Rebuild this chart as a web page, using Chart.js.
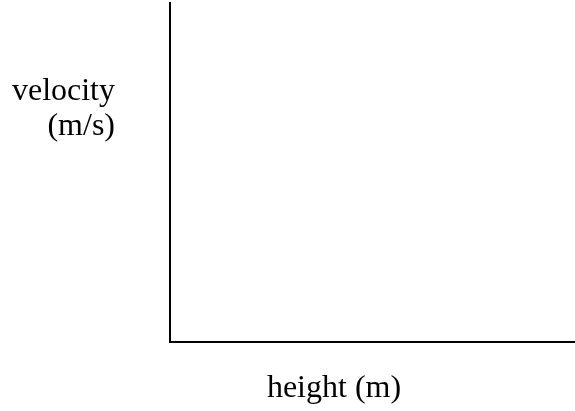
<!DOCTYPE html>
<html>
<head>
<meta charset="utf-8">
<script src="https://cdn.jsdelivr.net/npm/chart.js@4/dist/chart.umd.min.js"></script>
<style>
	html, body { margin: 0; padding: 0; background: #fff; }
	#wrap { width: 575px; height: 411px; position: relative; }
</style>
</head>
<body>
<div id="wrap"><canvas id="chart-velocity-height"></canvas></div>
<script>
// Data: the sketch is a blank set of axes, so both series are empty
const HEIGHTS = [];
const VELOCITIES = [];

// Axis labels
const X_TITLE = "height (m)";
const Y_TITLE_LINES = ["velocity", "(m/s)"];

const FONT = "32px 'Liberation Serif', 'Times New Roman', serif";

// Axis titles sit in free positions (horizontal, right-aligned y title)
const axisTitles = {
	id: "axisTitles",
	afterDraw(chart) {
		const { ctx, chartArea } = chart;
		ctx.save();
		ctx.fillStyle = "#000";
		ctx.font = FONT;
		ctx.textBaseline = "alphabetic";

		// y title, two lines to the left of the axis
		ctx.textAlign = "right";
		Y_TITLE_LINES.forEach((line, i) => {
			ctx.fillText(line, chartArea.left - 55, 100 + i * 35);
		});

		// x title under the axis
		ctx.textAlign = "center";
		ctx.fillText(X_TITLE, 334, chartArea.bottom + 55);
		ctx.restore();
	},
};

const CHART_DATA = {
	datasets: [
		{
			label: "velocity",
			data: HEIGHTS.map((h, i) => ({ x: h, y: VELOCITIES[i] })),
			pointRadius: 0,
		},
	],
};

const CHART_CONFIG = {
	type: "scatter",
	data: CHART_DATA,
	options: {
		responsive: true,
		maintainAspectRatio: false,
		animation: false,
		layout: {
			padding: { left: 170, top: 3, right: 0, bottom: 69 },
		},
		scales: {
			x: {
				border: { display: true, color: "#000", width: 2 },
				grid: { display: false, drawTicks: false },
				ticks: { display: false },
			},
			y: {
				border: { display: true, color: "#000", width: 2 },
				grid: { display: false, drawTicks: false },
				ticks: { display: false },
			},
		},
		plugins: {
			legend: { display: false },
			tooltip: { enabled: false },
		},
	},
	plugins: [axisTitles],
};

new Chart(document.getElementById("chart-velocity-height"), CHART_CONFIG);
</script>
</body>
</html>
